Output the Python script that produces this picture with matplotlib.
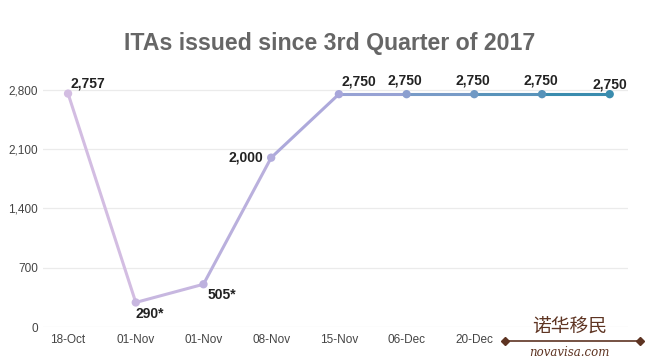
import numpy as np
import matplotlib as mpl
from matplotlib import pyplot as plt
from matplotlib.collections import LineCollection
from matplotlib.colors import LinearSegmentedColormap

dates = ["18-Oct", "01-Nov", "01-Nov", "08-Nov", "15-Nov", "06-Dec", "20-Dec", "", ""]
itas = [2757, 290, 505, 2000, 2750, 2750, 2750, 2750, 2750]
point_labels = ["2,757", "290*", "505*", "2,000", "2,750", "2,750", "2,750", "2,750", "2,750"]
yticks = [0, 700, 1400, 2100, 2800]


def main():
  plt.rcParams['font.family'] = ['Liberation Sans', 'DejaVu Sans']

  fig = plt.figure(figsize=(6.56, 3.63), dpi=100)
  ax = fig.add_axes([43 / 656, 36 / 363, 585 / 656, 254 / 363])

  x = np.arange(len(itas))
  y = np.array(itas, dtype=float)

  cmap = LinearSegmentedColormap.from_list("ita", ["#d3bde2", "#a7a6da", "#3a8cae"])
  pts = np.column_stack([x, y]).reshape(-1, 1, 2)
  segs = np.concatenate([pts[:-1], pts[1:]], axis=1)
  lc = LineCollection(segs, colors=cmap(np.linspace(0, 1, len(segs))), linewidth=2.2, zorder=3)
  ax.add_collection(lc)
  ax.scatter(x, y, s=36, c=cmap(np.linspace(0, 1, len(x))), zorder=4, edgecolors="none")

  offsets = [(2, 2, "left", "bottom"), (0, -3, "left", "top"), (3, -3, "left", "top"),
             (-6, 0, "right", "center"), (2, 4, "left", "bottom")] + [(-1, 5, "center", "bottom")] * 3 \
            + [(0, 2, "center", "bottom")]
  for i, lab in enumerate(point_labels):
    dx, dy, ha, va = offsets[i]
    ax.annotate(lab, (x[i], y[i]), xytext=(dx, dy), textcoords="offset points",
                ha=ha, va=va, fontsize=10, fontweight="bold", color="#222222", zorder=5)

  ax.set_xlim(-0.37, 8.27)
  ax.set_ylim(0, 3000)
  ax.set_xticks(x)
  ax.set_xticklabels(dates)
  ax.set_yticks(yticks)
  ax.set_yticklabels([f"{v:,}" for v in yticks])
  ax.tick_params(length=0, labelsize=8.5, colors="#444444")
  ax.tick_params(axis="x", pad=5)
  ax.grid(axis="y", color="#ebebeb", linewidth=0.9)
  ax.set_axisbelow(True)
  for s in ax.spines.values():
    s.set_visible(False)

  fig.text(0.503, 0.88, "ITAs issued since 3rd Quarter of 2017", ha="center", va="center",
           fontsize=16.7, fontweight="bold", color="#666666")

  # logo bottom right
  brown = "#5e3422"
  fig.text(0.868, 0.098, "诺华移民", ha="center", va="center", fontsize=13.5,
           color=brown, family=["Noto Sans CJK SC", "DejaVu Sans"])
  fig.text(0.868, 0.03, "novavisa.com", ha="center", va="center", fontsize=8.5,
           color=brown, style="italic", family=["DejaVu Serif"])
  fig.add_artist(plt.Line2D([0.77, 0.975], [0.06, 0.06], color=brown, linewidth=1.2))
  fig.add_artist(plt.Line2D([0.77, 0.975], [0.06, 0.06], color=brown, linewidth=0,
                            marker="D", markersize=4))

  plt.savefig("out.png", dpi=100)


if __name__ == "__main__":
  main()
